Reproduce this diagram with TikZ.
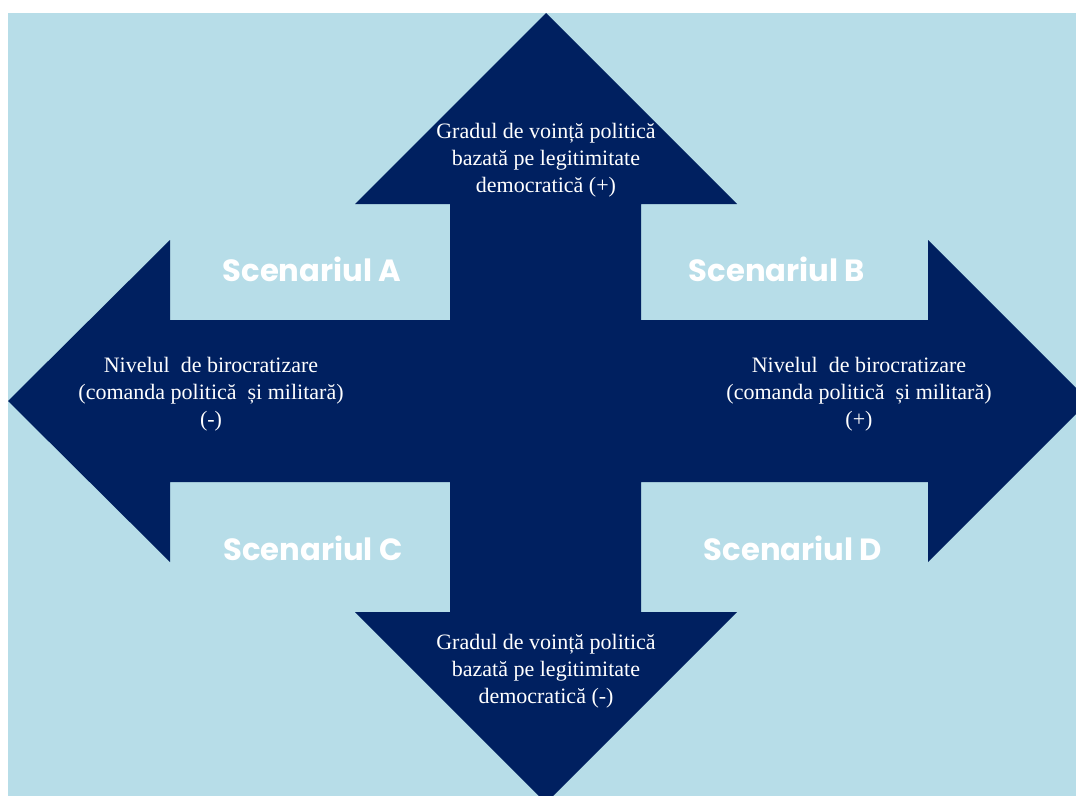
\documentclass[tikz,border=0pt]{standalone}
\usepackage{fontspec}
\setmainfont{Liberation Serif}
\newfontfamily\scenfont{Poppins}
\definecolor{navy}{HTML}{002060}
\definecolor{paleblue}{HTML}{B7DDE8}
\tikzset{
  axislabel/.style={text=white, align=center, font=\fontsize{16.5}{20.3}\selectfont},
  scenlabel/.style={text=white, font=\scenfont\bfseries\fontsize{23}{27}\selectfont}
}
\begin{document}
\begin{tikzpicture}[x=0.75pt, y=-0.75pt]
    \useasboundingbox (0, 0) rectangle (1076, 796);
    \fill[paleblue] (8, 13) rectangle (1076, 796);

    % four-way arrow, cut off at the page edge
    \begin{scope}
      \clip (8, 13) rectangle (1076, 796);
      \fill[navy] (546, 13) -- (737, 204) -- (641, 204) -- (641, 320)
        -- (928, 320) -- (928, 240) -- (1089, 401) -- (928, 562) -- (928, 482)
        -- (641, 482) -- (641, 612) -- (737, 612) -- (546, 803) -- (355, 612)
        -- (450, 612) -- (450, 482) -- (170, 482) -- (170, 562) -- (8, 401)
        -- (170, 240) -- (170, 320) -- (450, 320) -- (450, 204) -- (355, 204) -- cycle;
    \end{scope}

    \node[axislabel] (up) at (546, 160) {Gradul de voință politică\\bazată pe legitimitate\\democratică (+)};
    \node[axislabel] (down) at (546, 671) {Gradul de voință politică\\bazată pe legitimitate\\democratică (-)};
    \node[axislabel] (left) at (211, 394) {Nivelul\ \ de birocratizare\\(comanda politică\ \ și militară)\\(-)};
    \node[axislabel] (right) at (859, 394) {Nivelul\ \ de birocratizare\\(comanda politică\ \ și militară)\\(+)};

    \node[scenlabel] (scenA) at (312, 269) {Scenariul A};
    \node[scenlabel] (scenB) at (777, 269) {Scenariul B};
    \node[scenlabel] (scenC) at (313, 548) {Scenariul C};
    \node[scenlabel] (scenD) at (793, 548) {Scenariul D};
  \end{tikzpicture}
\end{document}
